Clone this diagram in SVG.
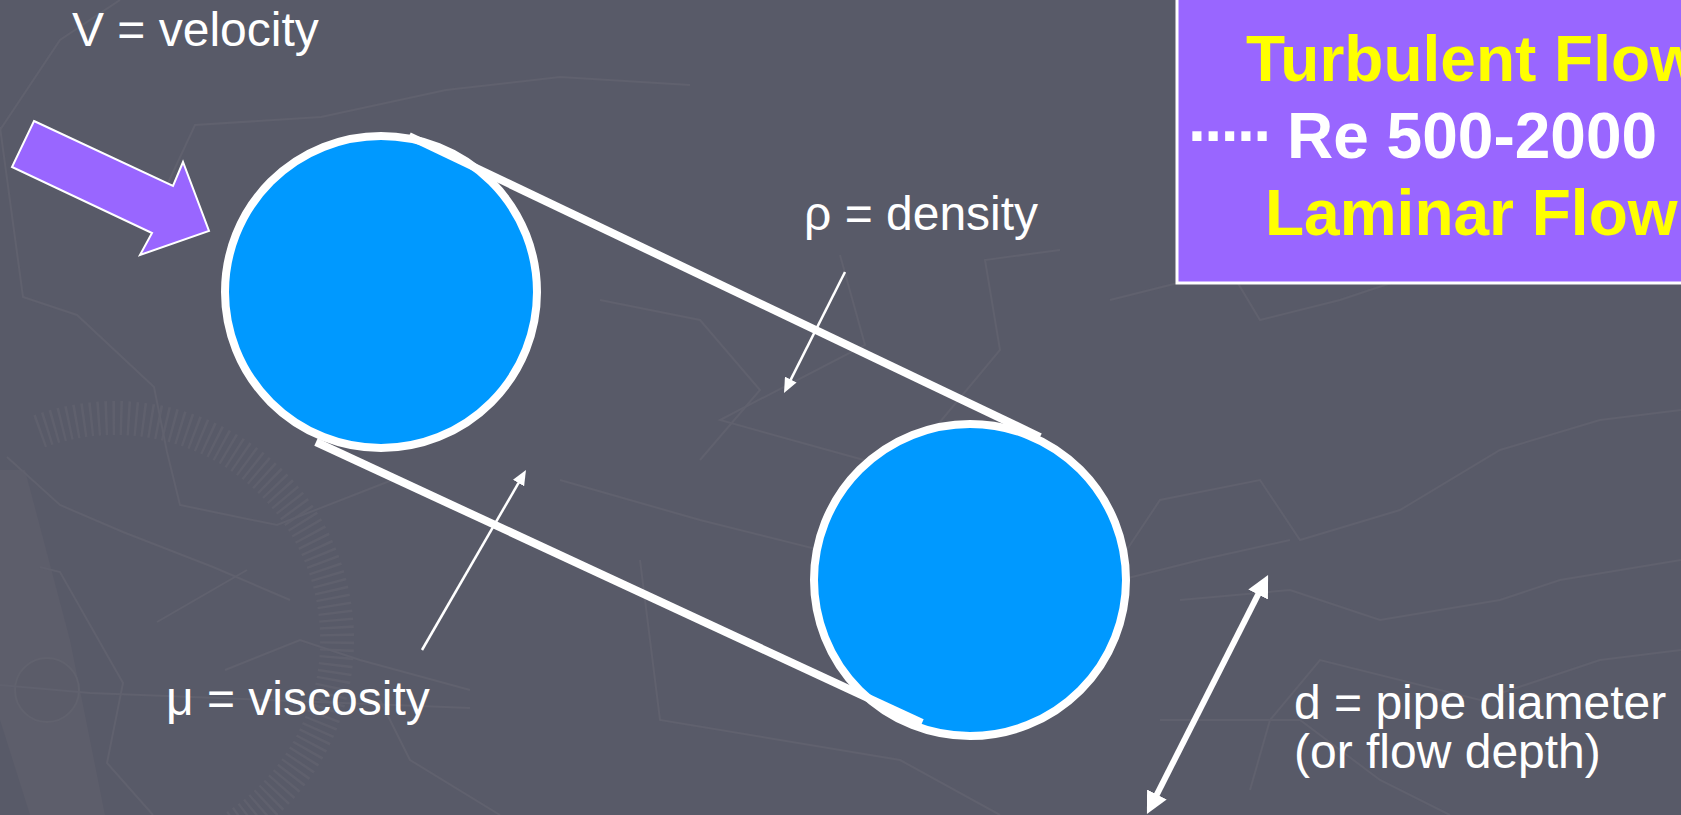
<svg xmlns="http://www.w3.org/2000/svg" width="1681" height="815" viewBox="0 0 1681 815">
  <defs>
    <style>
      .lbl { font-family: "Liberation Sans", Arial, sans-serif; font-size: 48px; fill: #FFFFFF; }
      .box { font-family: "Liberation Sans", Arial, sans-serif; font-size: 64px; font-weight: bold; }
      .bg { fill: none; stroke: #60616E; stroke-width: 2; }
      .pipe { fill: #0099FF; stroke: #FFFFFF; stroke-width: 8; }
      .edge { stroke: #FFFFFF; stroke-width: 8; stroke-linecap: butt; }
      .thin { stroke: #FFFFFF; stroke-width: 2.5; }
    </style>
    <marker id="headS" viewBox="0 0 10 10" refX="4.7" refY="5" markerWidth="15" markerHeight="13" markerUnits="userSpaceOnUse" orient="auto" preserveAspectRatio="none">
      <path d="M0,0 L10,5 L0,10 z" fill="#FFFFFF"/>
    </marker>
    <marker id="headD" viewBox="0 0 10 10" refX="4.5" refY="5" markerWidth="22" markerHeight="22" markerUnits="userSpaceOnUse" orient="auto-start-reverse">
      <path d="M0,0 L10,5 L0,10 z" fill="#FFFFFF"/>
    </marker>
  </defs>

  <rect x="0" y="0" width="1681" height="815" fill="#585A68"/>

  <g id="background">
    <path d="M39.1,431.4 A222,222 0 1 1 76.5,858.6" fill="none" stroke="#5F606D" stroke-width="34" stroke-dasharray="2.5 5"/>
    <polygon points="0,470 25,470 70,640 105,815 30,815 0,720" fill="#5D5E6B"/>
    <circle cx="47" cy="690" r="32" fill="#5B5C69" stroke="#61626E" stroke-width="2"/>
    <polyline class="bg" points="0,130 60,40 120,0"/>
    <polyline class="bg" points="0,127 23,297 77,315 154,387 167,452 180,505 277,525 400,477"/>
    <polyline class="bg" points="168,183 195,125 321,117 446,90 560,77 690,85"/>
    <polyline class="bg" points="7,457 60,505 123,532 213,567 290,600"/>
    <polyline class="bg" points="157,622 247,570"/>
    <polyline class="bg" points="0,685 90,693 470,708"/>
    <polyline class="bg" points="40,567 60,572 123,683 107,763 153,815"/>
    <polyline class="bg" points="225,670 300,640 360,660 470,690"/>
    <polyline class="bg" points="840,255 865,345 720,420 900,470 1000,350 985,260 1060,250"/>
    <polyline class="bg" points="1110,300 1230,270 1260,320 1340,300 1400,280"/>
    <polyline class="bg" points="1120,560 1160,500 1260,480 1300,540 1400,510 1500,450 1600,420 1681,410"/>
    <polyline class="bg" points="1180,600 1290,590 1380,620 1500,600 1560,580 1681,560"/>
    <polyline class="bg" points="1080,590 1200,560 1290,540"/>
    <polyline class="bg" points="1160,720 1300,720 1380,780 1450,815"/>
    <polyline class="bg" points="1250,790 1270,720 1320,660 1480,700 1600,660 1681,650"/>
    <polyline class="bg" points="600,300 700,320 760,390 700,460"/>
    <polyline class="bg" points="560,480 700,520 860,560"/>
    <polyline class="bg" points="640,560 660,720 900,760 1000,815"/>
    <polyline class="bg" points="380,700 410,760 500,815"/>
  </g>

  <g id="velocity-arrow">
    <polygon points="34,121 173,186 183,162 209,231 140,255 152,233 12,167" fill="#9966FF" stroke="#FFFFFF" stroke-width="2" stroke-linejoin="miter"/>
  </g>
  <g id="velocity-label">
    <text class="lbl" x="72" y="46">V = velocity</text>
  </g>

  <g id="pipe-circle-1">
    <circle class="pipe" cx="381" cy="292" r="156"/>
  </g>
  <g id="pipe-circle-2">
    <circle class="pipe" cx="970" cy="580" r="156"/>
  </g>

  <g id="connectors">
    <line class="edge" x1="409" y1="136" x2="1040" y2="437"/>
    <line class="edge" x1="316" y1="442" x2="922" y2="723"/>
    <line class="thin" x1="845" y1="272" x2="787.6" y2="385.9" marker-end="url(#headS)"/>
    <line class="thin" x1="422" y1="650" x2="522" y2="476.9" marker-end="url(#headS)"/>
    <line x1="1262.6" y1="585.7" x2="1152.4" y2="803.3" stroke="#FFFFFF" stroke-width="6" marker-start="url(#headD)" marker-end="url(#headD)"/>
  </g>

  <g id="density-label">
    <text class="lbl" x="804" y="230">ρ = density</text>
  </g>
  <g id="viscosity-label">
    <text class="lbl" x="166" y="715">μ = viscosity</text>
  </g>
  <g id="diameter-label">
    <text class="lbl" x="1294" y="719">d = pipe diameter</text>
    <text class="lbl" x="1294" y="768">(or flow depth)</text>
  </g>

  <g id="reynolds-box">
    <rect x="1177" y="-4" width="520" height="287" fill="#9966FF" stroke="#FFFFFF" stroke-width="3"/>
    <text class="box" x="1246" y="81" fill="#FFFF00">Turbulent Flow</text>
    <text class="box" x="1188" y="158" fill="#FFFFFF" letter-spacing="-5">·····</text>
    <text class="box" x="1287" y="158" fill="#FFFFFF">Re 500-2000</text>
    <text class="box" x="1265" y="235" fill="#FFFF00">Laminar Flow</text>
  </g>
</svg>
